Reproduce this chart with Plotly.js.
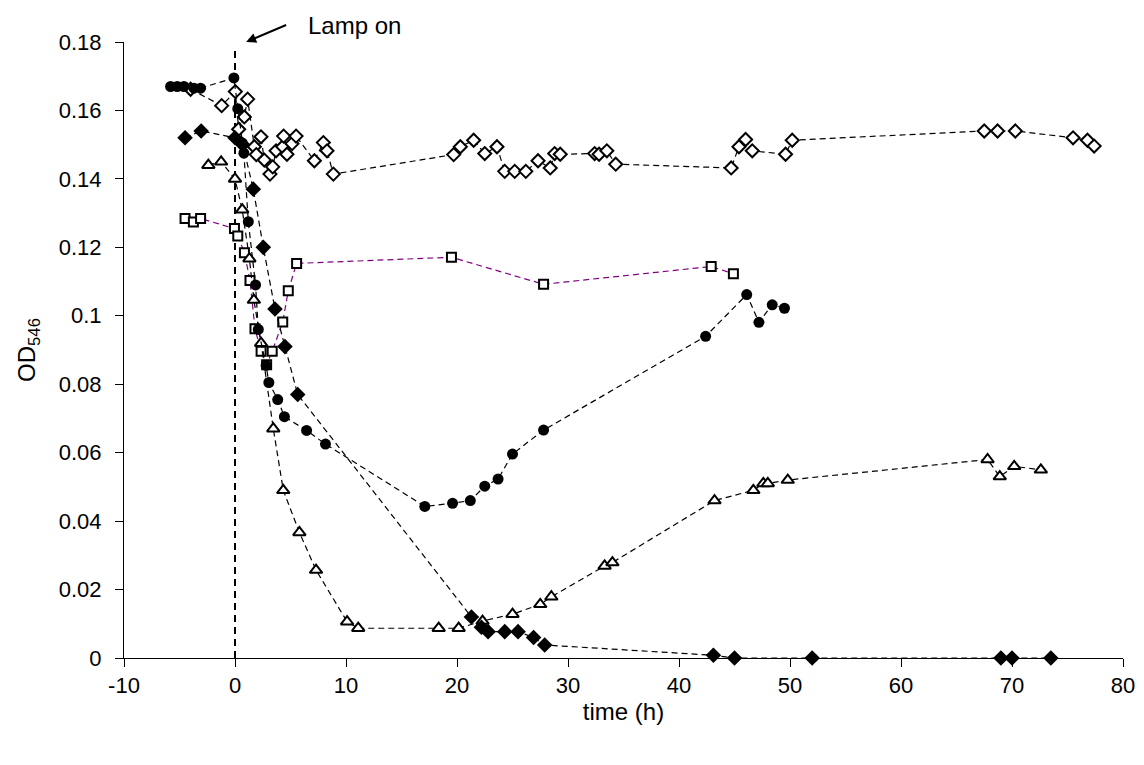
<!DOCTYPE html>
<html>
<head>
<meta charset="utf-8">
<script src="https://cdn.plot.ly/plotly-3.0.1.min.js"></script>
<style>html,body{margin:0;padding:0;background:#fff;}#chart{width:1144px;height:765px;}</style>
</head>
<body>
<div id="chart"></div>
<script>
// Filled circles
const circleX = [-5.8,-5.2,-4.6,-3.7,-3.1,-0.1,0.25,0.65,0.8,1.2,1.85,2.1,2.8,3.05,3.85,4.45,6.45,8.15,17.1,19.6,21.2,22.5,23.7,25.0,27.8,42.4,46.1,47.2,48.4,49.5];
const circleY = [0.167,0.167,0.167,0.1665,0.1665,0.1695,0.1605,0.1505,0.1475,0.1275,0.109,0.096,0.0855,0.0805,0.0755,0.0705,0.0665,0.0625,0.0443,0.0452,0.046,0.0502,0.0523,0.0596,0.0666,0.094,0.1062,0.0981,0.1032,0.1022];
// Filled diamonds
const diamondX = [-4.5,-3.05,0.0,0.7,1.65,2.55,3.6,4.5,5.65,21.3,22.2,22.8,24.3,25.5,26.9,27.9,43.1,45.0,52.0,69.0,70.0,73.5];
const diamondY = [0.152,0.154,0.152,0.150,0.137,0.120,0.102,0.091,0.077,0.012,0.009,0.0077,0.0077,0.0077,0.006,0.0038,0.0008,0,0,0,0,0];
// Open triangles
const triX = [-2.4,-1.25,0.0,0.65,1.3,1.7,2.35,3.45,4.35,5.8,7.3,10.1,11.1,18.35,20.15,22.3,25.0,27.5,28.5,33.3,34.0,43.2,46.7,47.6,48.0,49.8,67.8,68.9,70.2,72.6];
const triY = [0.144,0.145,0.140,0.131,0.1167,0.1046,0.092,0.067,0.049,0.0367,0.0257,0.0106,0.0087,0.0087,0.0087,0.0108,0.0128,0.0157,0.0179,0.0269,0.0279,0.046,0.049,0.051,0.051,0.052,0.058,0.053,0.056,0.055];
// Open squares (purple line)
const squareX = [-4.5,-3.75,-3.1,-0.05,0.25,0.85,1.35,1.8,2.35,2.85,3.35,4.3,4.8,5.55,19.5,27.8,42.9,44.9];
const squareY = [0.1284,0.1274,0.1284,0.1255,0.1233,0.1184,0.1103,0.0962,0.0896,0.0857,0.0896,0.0982,0.1073,0.1153,0.1171,0.1092,0.1144,0.1123];
// Open diamonds
const odX = [-4.0,-1.2,0.03,0.33,0.84,1.14,1.74,1.92,2.34,2.64,3.15,3.4,3.7,4.3,4.38,4.68,5.14,5.5,7.15,7.96,8.29,8.86,19.7,20.3,21.5,22.5,23.6,24.3,25.2,26.2,27.3,28.4,28.8,29.3,32.4,32.8,33.5,34.3,44.7,45.4,46.0,46.6,49.6,50.2,67.5,68.7,70.3,75.5,76.8,77.4];
const odY = [0.1662,0.1614,0.1655,0.1545,0.1581,0.1633,0.1494,0.1471,0.1523,0.1455,0.1414,0.1435,0.1482,0.1494,0.1525,0.1472,0.1503,0.1525,0.1453,0.1506,0.1482,0.1414,0.1471,0.1494,0.1513,0.1474,0.1494,0.1422,0.1422,0.1422,0.1453,0.1432,0.1474,0.1472,0.1474,0.1472,0.1482,0.1443,0.1432,0.1494,0.1515,0.1482,0.1472,0.1513,0.154,0.154,0.154,0.152,0.1513,0.1496];

// Lamp-on marker
const lampTime = [0, 0];
const lampSpan = [0, 0.1785];

const xTicks = [-10,0,10,20,30,40,50,60,70,80];
const xTickText = ['-10','0','10','20','30','40','50','60','70','80'];
const yTicks = [0,0.02,0.04,0.06,0.08,0.1,0.12,0.14,0.16,0.18];
const yTickText = ['0','0.02','0.04','0.06','0.08','0.1','0.12','0.14','0.16','0.18'];

const FONT = 'Liberation Sans, Arial, sans-serif';
const dashLine = {color:'#000', width:1.2, dash:'6px,4px'};

const traces = [
  {x: lampTime, y: lampSpan, mode:'lines', line:{color:'#000', width:2, dash:'7px,5px'}, hoverinfo:'skip', showlegend:false},
  {x: odX, y: odY, mode:'lines+markers', line: dashLine,
   marker:{symbol:'diamond', size:10, color:'#fff', line:{color:'#000', width:2}}, cliponaxis:false},
  {x: squareX, y: squareY, mode:'lines+markers', line:{color:'#800080', width:1.2, dash:'6px,4px'},
   marker:{symbol:'square', size:9, color:'#fff', line:{color:'#000', width:2}}, cliponaxis:false},
  {x: triX, y: triY, mode:'lines+markers', line: dashLine,
   marker:{symbol:'triangle-up', size:11, color:'#fff', line:{color:'#000', width:2}}, cliponaxis:false},
  {x: diamondX, y: diamondY, mode:'lines+markers', line: dashLine,
   marker:{symbol:'diamond', size:12, color:'#000', line:{color:'#000', width:0}}, cliponaxis:false},
  {x: circleX, y: circleY, mode:'lines+markers', line: dashLine,
   marker:{symbol:'circle', size:11, color:'#000', line:{color:'#000', width:0}}, cliponaxis:false}
];

const layout = {
  width:1144, height:765,
  margin:{l:124, r:21, t:42, b:107, pad:0},
  paper_bgcolor:'#fff', plot_bgcolor:'#fff',
  showlegend:false,
  font:{family:FONT, size:22, color:'#000'},
  xaxis:{range:[-10,80], tickvals:xTicks, ticktext:xTickText, ticks:'outside', ticklen:8, tickwidth:1, tickcolor:'#000',
         showline:true, linecolor:'#000', linewidth:1, showgrid:false, zeroline:false,
         tickfont:{family:FONT, size:22}, title:{text:'time (h)', font:{family:FONT, size:24}, standoff:5}},
  yaxis:{range:[0,0.18], tickvals:yTicks, ticktext:yTickText, ticks:'outside', ticklen:8, tickwidth:1, tickcolor:'#000',
         ticklabelstandoff:9,
         showline:true, linecolor:'#000', linewidth:1, showgrid:false, zeroline:false,
         tickfont:{family:FONT, size:22}, title:{text:'OD<sub>546</sub>', font:{family:FONT, size:24}, standoff:16}},
  annotations:[
    {x:1.0, y:0.18, xref:'x', yref:'y', text:'&nbsp;&nbsp;&nbsp;Lamp on', showarrow:true,
     axref:'pixel', ayref:'pixel', ax:40, ay:-17, xanchor:'left', yanchor:'middle',
     arrowhead:2, arrowsize:1, arrowwidth:2, arrowcolor:'#000',
     font:{family:FONT, size:24, color:'#000'}}
  ]
};

Plotly.newPlot('chart', traces, layout, {displayModeBar:false, staticPlot:true});
</script>
</body>
</html>
